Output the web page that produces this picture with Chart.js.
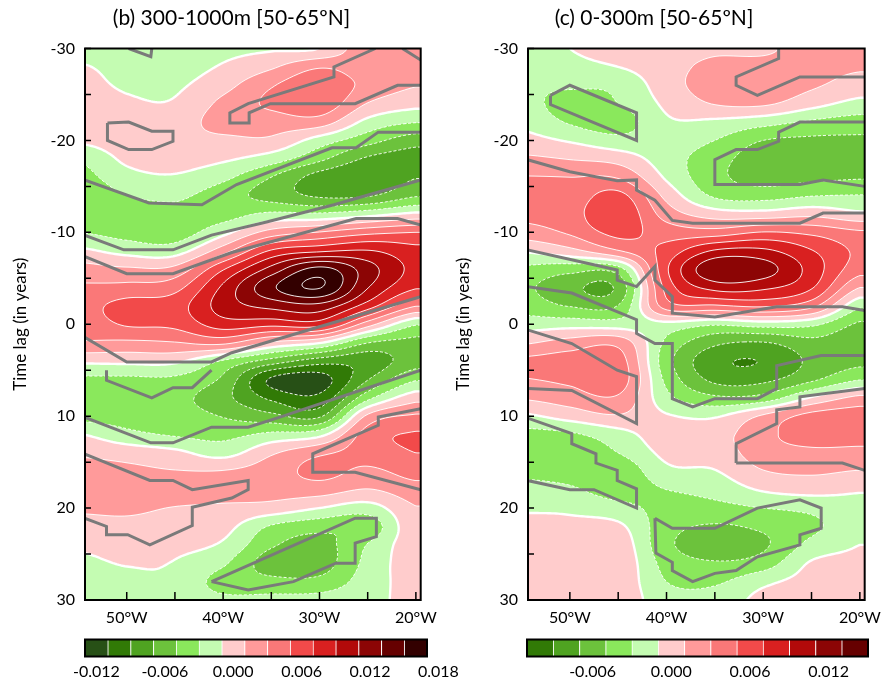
<!DOCTYPE html>
<html>
<head>
<meta charset="utf-8">
<title>Lag regression, 50-65ºN</title>
<script src="https://cdn.jsdelivr.net/npm/chart.js@4.4.1/dist/chart.umd.min.js"></script>
<style>
  html, body { margin: 0; padding: 0; background: #fff; }
  #wrap { position: relative; width: 889px; height: 686px; overflow: hidden; }
  canvas { position: absolute; }
</style>
</head>
<body>
<div id="wrap">
  <canvas id="mapB" width="445" height="640" style="left:0;top:0"></canvas>
  <canvas id="mapC" width="444" height="640" style="left:445px;top:0"></canvas>
  <canvas id="barB" width="410" height="56" style="left:60px;top:630px"></canvas>
  <canvas id="barC" width="400" height="56" style="left:500px;top:630px"></canvas>
</div>
<script>
// grid nodes of the regression field
const lonNodes = [-55, -50, -45, -40, -35, -30, -25, -20];
const lagNodes = [-30, -28, -26, -24, -22, -20, -18, -16, -14, -12, -10, -8, -6, -4, -2,
                  0, 2, 4, 6, 8, 10, 12, 14, 16, 18, 20, 22, 24, 26, 28, 30];

// regression coefficients x 1e-3, one row per lag node, one column per lon node
const field300to1000 = [
  [-1.8, -2.2, -2.3, -1.5, -1.2, -1.0, 2.4, 2.7],
  [-0.8, -1.7, -1.8, -0.8, 0.7, 2.8, 1.9, 1.9],
  [-0.2, -1.3, -1.3, 0.3, 2.8, 4.5, 2.4, 1.1],
  [0.6, -0.6, -0.8, 1.5, 3.4, 4.4, 0.9, -0.4],
  [0.0, 0.1, -0.1, 1.9, 1.9, 2.0, -1.6, -2.9],
  [-0.7, 0.1, 0.4, 0.5, 0.6, -1.9, -4.2, -6.1],
  [-2.8, -0.6, -0.3, -0.7, -2.0, -4.5, -7.3, -8.0],
  [-3.8, -1.7, -1.2, -2.5, -5.0, -7.8, -8.8, -7.1],
  [-4.7, -3.0, -2.6, -4.1, -5.8, -7.3, -7.2, -5.2],
  [-3.9, -4.2, -3.6, -3.8, -2.6, -2.7, -1.8, -0.6],
  [-3.0, -3.7, -3.9, -1.6, 1.8, 3.1, 4.4, 5.0],
  [-0.6, -1.7, -1.9, 2.1, 7.2, 8.6, 9.1, 7.6],
  [1.8, 1.3, 1.6, 6.8, 11.7, 15.6, 11.9, 8.4],
  [3.3, 3.6, 4.3, 9.4, 14.6, 17.1, 11.1, 7.2],
  [4.2, 5.7, 6.1, 9.9, 11.6, 12.3, 8.0, 3.1],
  [3.8, 5.2, 5.5, 8.0, 7.6, 7.8, 1.9, -2.8],
  [2.8, 2.6, 2.9, 3.5, 0.7, -0.8, -4.9, -5.6],
  [-0.6, -0.5, -0.6, -3.2, -5.8, -8.0, -8.2, -5.9],
  [-3.4, -3.4, -3.4, -5.4, -11.3, -11.9, -7.1, -3.2],
  [-4.5, -4.4, -4.4, -6.4, -9.4, -10.4, -3.6, 0.2],
  [-3.7, -3.9, -4.1, -5.1, -6.4, -7.3, 1.4, 3.3],
  [-0.9, -2.4, -3.2, -3.6, -2.5, -1.6, 3.9, 5.2],
  [0.7, 0.2, -0.5, -1.7, 0.7, 2.6, 3.8, 5.0],
  [1.8, 1.5, 1.1, 1.1, 2.0, 3.6, 2.6, 3.8],
  [2.3, 2.4, 2.2, 2.0, 1.8, 1.9, 0.9, 2.2],
  [1.3, 1.4, 0.9, 0.6, 0.2, -1.0, -1.9, 0.9],
  [0.3, 0.5, 0.2, -0.3, -3.2, -4.3, -4.3, 0.6],
  [-0.7, -0.2, -0.5, -1.3, -4.7, -5.7, -2.9, 0.3],
  [-1.4, -0.9, -1.1, -2.7, -6.0, -6.0, -2.4, 0.1],
  [-1.8, -1.4, -1.4, -3.8, -4.4, -4.4, -2.0, -0.2],
  [-2.1, -1.9, -1.8, -2.6, -2.5, -2.3, -1.5, -0.5]
];

const field0to300 = [
  [-2.0, -1.0, 0.2, 0.0, 0.6, 0.5, 2.3, 2.4],
  [-2.3, -1.8, -1.0, 0.2, 1.6, 1.9, 1.8, 1.3],
  [-2.6, -2.7, -2.5, 0.1, 2.0, 2.3, 1.3, 0.1],
  [-2.1, -3.9, -3.0, -0.6, 1.1, 1.3, -0.3, -1.6],
  [-1.4, -3.2, -4.0, -1.3, -1.4, -2.2, -3.3, -3.9],
  [-0.3, -1.2, -2.3, -2.0, -3.0, -5.0, -5.4, -5.4],
  [1.4, 0.9, 0.2, -2.1, -4.1, -6.2, -6.5, -6.3],
  [3.1, 3.0, 2.8, -1.3, -4.4, -5.8, -5.5, -5.2],
  [4.2, 3.8, 5.6, 0.4, -3.3, -3.8, -3.1, -2.9],
  [3.6, 4.2, 6.6, 2.1, 0.0, -0.2, 0.4, -0.6],
  [2.0, 3.3, 5.6, 4.1, 3.9, 5.1, 4.5, 3.3],
  [-0.8, 0.4, 2.9, 5.7, 9.2, 9.4, 7.1, 4.6],
  [-3.4, -4.2, -3.8, 6.7, 12.6, 11.9, 8.2, 3.8],
  [-4.5, -6.5, -6.5, 5.7, 9.7, 9.4, 7.2, 1.0],
  [-3.7, -5.1, -4.9, 4.0, 4.7, 5.3, 3.6, -2.6],
  [-2.0, -1.8, -2.0, -1.6, -2.7, -2.0, -2.5, -5.3],
  [0.7, 1.8, 2.3, -3.4, -6.5, -7.1, -5.6, -6.3],
  [3.4, 3.9, 4.0, -4.2, -8.4, -8.9, -6.6, -5.6],
  [2.9, 3.4, 4.2, -3.5, -7.5, -7.5, -5.4, -3.1],
  [1.2, 2.0, 2.7, -2.4, -4.6, -4.2, -0.8, 1.5],
  [-1.4, -0.2, 0.8, -0.8, -1.2, 1.3, 3.7, 4.1],
  [-3.7, -3.3, -1.8, 0.1, 0.2, 2.4, 4.0, 3.9],
  [-4.4, -4.3, -3.0, -0.5, -0.1, 2.0, 2.5, 2.4],
  [-3.4, -3.8, -4.4, -1.5, -1.1, 0.9, 1.3, 0.9],
  [-2.4, -2.7, -3.9, -3.0, -2.3, -0.8, -0.3, -0.8],
  [-1.3, -1.4, -2.3, -3.6, -3.6, -3.0, -2.5, -1.6],
  [-0.2, -0.4, -0.6, -4.2, -5.2, -4.6, -3.4, -1.8],
  [0.6, 0.5, 0.3, -4.5, -6.1, -5.3, -2.4, -1.0],
  [0.5, 0.4, 0.5, -3.7, -4.8, -4.0, -0.8, -0.6],
  [0.3, 0.3, 0.4, -3.0, -3.3, -1.5, -0.3, -0.2],
  [0.2, 0.2, 0.3, -2.2, -2.2, -0.4, 0.3, 0.2]
];

// contour levels (x 1e-3) and the shading between them
const levels = [-11, -9, -7, -5, -3, -1, 1, 3, 5, 7, 9, 11, 13, 15, 17];
const fillColors = ['#275016', '#317a06', '#4fa321', '#6cc23c', '#8ae85c', '#c4fcb2',
                    '#ffcccc', '#ff9a9a', '#fa7878', '#f24a4a', '#d92020', '#b20a0a',
                    '#8c0505', '#660000', '#330000', '#330000'];

// colour bar box edges and labels
const barEdgesB = [-13, -11, -9, -7, -5, -3, -1, 1, 3, 5, 7, 9, 11, 13, 15, 17];
const barTicksB = [-12, -6, 0, 6, 12, 18];
const barLabelsB = ['-0.012', '-0.006', '0.000', '0.006', '0.012', '0.018'];
const barEdgesC = [-11, -9, -7, -5, -3, -1, 1, 3, 5, 7, 9, 11, 13, 15];
const barTicksC = [-6, 0, 6, 12];
const barLabelsC = ['-0.006', '0.000', '0.006', '0.012'];

// axis ticks
const lonTicks = [-50, -45, -40, -35, -30, -25, -20];
const lonLabels = ['50°W', '', '40°W', '', '30°W', '', '20°W'];
const lagTicks = [-30, -25, -20, -15, -10, -5, 0, 5, 10, 15, 20, 25, 30];
const lagLabels = ['-30', '', '-20', '', '-10', '', '0', '', '10', '', '20', '', '30'];

// significance outlines, [lon, lag] vertices
const sig300to1000 = [
  [[-49.8, -30], [-47.5, -29.1], [-47.4, -30]],
  [[-24.2, -30], [-28.5, -28.0], [-28.5, -26.9], [-37.4, -24.0], [-39.3, -23.0], [-39.3, -21.9],
   [-37.3, -21.9], [-37.3, -23.0], [-35.1, -24.0], [-26.3, -24.0], [-21.9, -26.0], [-19.5, -26.0]],
  [[-19.5, -28.75], [-21.4, -30]],
  [[-52.0, -21.9], [-49.8, -22.0], [-47.4, -21.0], [-45.2, -21.0], [-45.2, -19.9], [-47.4, -19.0],
   [-49.8, -19.0], [-52.0, -20.0], [-52.0, -21.9]],
  [[-54.4, -15.7], [-47.7, -13.2], [-42.2, -13.0], [-38.6, -15.2], [-28.7, -19.2], [-26.2, -19.2],
   [-23.9, -20.9], [-19.5, -20.9]],
  [[-54.4, -9.7], [-50.3, -8.1], [-45.2, -8.1], [-41.2, -9.7], [-35.6, -11.1], [-28.5, -13.0], [-19.5, -15.7]],
  [[-54.4, -7.4], [-50.0, -5.5], [-45.2, -5.5], [-39.1, -7.8], [-26.2, -11.5], [-21.9, -11.5], [-19.5, -10.8]],
  [[-54.4, 1.4], [-50.0, 4.1], [-41.2, 4.1], [-39.1, 3.1], [-19.5, -3.0]],
  [[-52.1, 5.0], [-52.1, 6.1], [-47.4, 8.0], [-45.2, 6.9], [-43.2, 6.9], [-41.2, 5.0]],
  [[-54.4, 10.1], [-47.5, 12.9], [-45.2, 12.9], [-41.2, 11.2], [-37.4, 11.2], [-34.1, 10.1], [-19.5, 5.0]],
  [[-54.4, 14.1], [-47.6, 17.0], [-45.2, 17.0], [-43.2, 18.0], [-37.4, 17.0], [-37.4, 18.0],
   [-39.1, 18.9], [-43.2, 19.9], [-43.2, 21.9], [-47.6, 24.0], [-49.9, 22.9], [-52.1, 22.9],
   [-52.1, 22.0], [-54.4, 21.1]],
  [[-19.5, 9.2], [-23.9, 10.1], [-23.9, 11.0], [-30.7, 14.1], [-30.7, 16.1], [-26.3, 16.1], [-19.5, 18.0]],
  [[-41.2, 28.0], [-37.4, 28.9], [-32.7, 28.0], [-28.3, 26.0], [-26.3, 26.0], [-26.3, 23.8],
   [-24.1, 23.1], [-24.1, 21.1], [-26.3, 21.1], [-41.2, 28.0]]
];

const sig0to300 = [
  [[-52.0, -24.9], [-50.0, -26.0], [-43.1, -23.0], [-43.1, -20.0], [-52.0, -23.9], [-52.0, -24.9]],
  [[-28.4, -30], [-28.4, -28.9], [-32.8, -26.9], [-32.8, -26.0], [-30.6, -24.9], [-26.2, -26.9], [-19.5, -26.9]],
  [[-19.5, -22.0], [-26.2, -22.0], [-28.4, -20.9], [-28.4, -19.9], [-30.6, -19.0], [-32.8, -19.0],
   [-35.0, -17.9], [-35.0, -15.2], [-26.2, -15.2], [-23.8, -15.7], [-19.5, -15.0]],
  [[-54.4, -17.9], [-50.0, -16.6], [-45.1, -15.6], [-43.1, -15.7], [-43.1, -14.6], [-41.2, -13.5],
   [-39.4, -11.3], [-37.3, -11.0], [-26.2, -11.0], [-23.8, -12.1], [-19.5, -12.1]],
  [[-19.5, -1.5], [-21.8, -1.9], [-28.6, -1.9], [-35.0, -0.8], [-39.4, -1.2], [-39.4, -3.0],
   [-41.2, -4.8], [-41.2, -6.3], [-43.1, -4.1], [-45.1, -4.8], [-45.1, -5.9], [-54.4, -8.1]],
  [[-54.4, -4.1], [-49.8, -3.4], [-43.1, -0.5], [-43.1, 1.0], [-41.2, 2.1], [-39.4, 2.1], [-39.4, 8.1],
   [-37.3, 9.0], [-35.0, 8.1], [-30.6, 8.1], [-28.6, 7.0], [-28.6, 4.5], [-24.0, 3.4], [-19.5, 3.4]],
  [[-54.4, 7.0], [-49.8, 7.2], [-43.1, 10.8], [-43.1, 5.7], [-45.1, 5.0], [-49.8, 2.1], [-54.4, 0.6]],
  [[-54.4, 10.2], [-49.8, 11.9], [-49.8, 13.0], [-47.3, 14.1], [-47.3, 15.1], [-45.1, 15.9], [-45.1, 17.0],
   [-43.1, 17.9], [-43.1, 20.0], [-47.5, 18.0], [-50.0, 18.0], [-54.4, 17.0]],
  [[-32.8, 15.1], [-32.8, 13.0], [-28.6, 10.8], [-28.6, 9.3], [-26.2, 9.0], [-26.2, 7.9], [-19.5, 7.0]],
  [[-32.8, 15.1], [-21.8, 15.1], [-19.5, 15.9]],
  [[-41.2, 21.1], [-39.4, 22.2], [-35.0, 22.2], [-30.6, 20.0], [-26.2, 19.1], [-24.0, 20.0], [-24.0, 22.2],
   [-26.2, 22.9], [-26.2, 24.0], [-30.6, 25.3], [-32.8, 26.8], [-35.0, 27.1], [-37.3, 28.0], [-39.4, 26.8],
   [-39.4, 25.9], [-41.1, 24.9], [-41.2, 21.1]]
];

const FONT = 'Lato, "Open Sans", "DejaVu Sans", sans-serif';
Chart.defaults.font.family = FONT;
Chart.defaults.color = '#000';

const LON0 = lonNodes[0], DLON = lonNodes[1] - lonNodes[0];
const LAG0 = lagNodes[0], DLAG = lagNodes[1] - lagNodes[0];
const fillRGB = fillColors.map(h => [1, 3, 5].map(o => parseInt(h.substr(o, 2), 16)));

function catmull(p0, p1, p2, p3, t) {
  return p1 + 0.5 * t * (p2 - p0 + t * (2 * p0 - 5 * p1 + 4 * p2 - p3 + t * (3 * (p1 - p2) + p3 - p0)));
}

// smooth (Catmull-Rom) value of the gridded field at lon/lag
function fieldAt(grid, lon, lag) {
  const ny = grid.length, nx = grid[0].length;
  const gx = Math.min(nx - 1, Math.max(0, (lon - LON0) / DLON));
  const gy = Math.min(ny - 1, Math.max(0, (lag - LAG0) / DLAG));
  const ix = Math.min(nx - 2, Math.floor(gx)), iy = Math.min(ny - 2, Math.floor(gy));
  const tx = gx - ix, ty = gy - iy;
  const cx = k => Math.min(nx - 1, Math.max(0, k));
  const rowVal = r => {
    const R = grid[Math.min(ny - 1, Math.max(0, r))];
    return catmull(R[cx(ix - 1)], R[cx(ix)], R[cx(ix + 1)], R[cx(ix + 2)], tx);
  };
  return catmull(rowVal(iy - 1), rowVal(iy), rowVal(iy + 1), rowVal(iy + 2), ty);
}

function binOf(v) {
  let k = 0;
  while (k < levels.length && v >= levels[k]) k++;
  return k;
}

// marching squares for one level, segments chained into polylines
function traceLevel(vals, nx, ny, ox, oy, step, L) {
  const pos = new Map(), adj = new Map();
  const link = (p, q) => {
    if (!adj.has(p)) adj.set(p, []);
    if (!adj.has(q)) adj.set(q, []);
    adj.get(p).push(q);
    adj.get(q).push(p);
  };
  for (let j = 0; j < ny - 1; j++) {
    for (let i = 0; i < nx - 1; i++) {
      const a = vals[j * nx + i], b = vals[j * nx + i + 1];
      const c = vals[(j + 1) * nx + i + 1], d = vals[(j + 1) * nx + i];
      const idx = (a >= L ? 1 : 0) | (b >= L ? 2 : 0) | (c >= L ? 4 : 0) | (d >= L ? 8 : 0);
      if (idx === 0 || idx === 15) continue;
      const edge = n => {
        let k, x, y, t;
        if (n === 0) { k = (j * nx + i) * 2; t = (L - a) / (b - a); x = ox + (i + t) * step; y = oy + j * step; }
        else if (n === 1) { k = (j * nx + i + 1) * 2 + 1; t = (L - b) / (c - b); x = ox + (i + 1) * step; y = oy + (j + t) * step; }
        else if (n === 2) { k = ((j + 1) * nx + i) * 2; t = (L - d) / (c - d); x = ox + (i + t) * step; y = oy + (j + 1) * step; }
        else { k = (j * nx + i) * 2 + 1; t = (L - a) / (d - a); x = ox + i * step; y = oy + (j + t) * step; }
        if (!pos.has(k)) pos.set(k, [x, y]);
        return k;
      };
      const m = (a + b + c + d) / 4;
      let pairs;
      switch (idx) {
        case 1: case 14: pairs = [[0, 3]]; break;
        case 2: case 13: pairs = [[0, 1]]; break;
        case 3: case 12: pairs = [[1, 3]]; break;
        case 4: case 11: pairs = [[1, 2]]; break;
        case 6: case 9: pairs = [[0, 2]]; break;
        case 7: case 8: pairs = [[2, 3]]; break;
        case 5: pairs = m >= L ? [[0, 1], [2, 3]] : [[0, 3], [1, 2]]; break;
        case 10: pairs = m >= L ? [[0, 3], [1, 2]] : [[0, 1], [2, 3]]; break;
      }
      for (const [p, q] of pairs) link(edge(p), edge(q));
    }
  }
  const lines = [];
  const walk = start => {
    const pts = [pos.get(start)];
    let cur = start;
    for (;;) {
      const nb = adj.get(cur);
      if (!nb.length) break;
      const nxt = nb.pop();
      const back = adj.get(nxt);
      back.splice(back.indexOf(cur), 1);
      pts.push(pos.get(nxt));
      cur = nxt;
    }
    return pts;
  };
  for (const [k, nb] of adj) if (nb.length === 1) lines.push(walk(k));
  for (const [k, nb] of adj) while (nb.length) lines.push(walk(k));
  return lines;
}

// shaded field plus white contour lines, drawn under the outlines
function fieldPlugin(grid) {
  return {
    id: 'field',
    beforeDatasetsDraw(chart) {
      const { ctx, chartArea: area, scales: { x: xs, y: ys } } = chart;
      const X0 = Math.floor(area.left), Y0 = Math.floor(area.top);
      const W = Math.ceil(area.right) - X0, H = Math.ceil(area.bottom) - Y0;
      const img = ctx.createImageData(W, H);
      const lons = [];
      for (let i = 0; i < W; i++) lons.push(xs.getValueForPixel(X0 + i + 0.5));
      for (let j = 0; j < H; j++) {
        const lag = ys.getValueForPixel(Y0 + j + 0.5);
        for (let i = 0; i < W; i++) {
          const c = fillRGB[binOf(fieldAt(grid, lons[i], lag))];
          const o = (j * W + i) * 4;
          img.data[o] = c[0]; img.data[o + 1] = c[1]; img.data[o + 2] = c[2]; img.data[o + 3] = 255;
        }
      }
      ctx.putImageData(img, X0, Y0);

      const step = 2;
      const nx = Math.ceil(W / step) + 1, ny = Math.ceil(H / step) + 1;
      const vals = new Float64Array(nx * ny);
      for (let j = 0; j < ny; j++) {
        const lag = ys.getValueForPixel(Y0 + j * step);
        for (let i = 0; i < nx; i++) vals[j * nx + i] = fieldAt(grid, xs.getValueForPixel(X0 + i * step), lag);
      }
      ctx.save();
      ctx.beginPath();
      ctx.rect(area.left, area.top, area.width, area.height);
      ctx.clip();
      ctx.strokeStyle = '#ffffff';
      ctx.lineJoin = 'round';
      for (const L of levels) {
        const lines = traceLevel(vals, nx, ny, X0, Y0, step, L);
        if (!lines.length) continue;
        ctx.lineWidth = L === -1 ? 2.4 : 0.9;
        ctx.setLineDash(L < -1 ? [3, 2] : []);
        ctx.beginPath();
        for (const pts of lines) {
          ctx.moveTo(pts[0][0], pts[0][1]);
          for (let k = 1; k < pts.length; k++) ctx.lineTo(pts[k][0], pts[k][1]);
        }
        ctx.stroke();
      }
      ctx.restore();
    }
  };
}

// black frame, inward tick marks and the panel heading
function framePlugin(title, titleX) {
  return {
    id: 'frame',
    afterDraw(chart) {
      const { ctx, chartArea: a, scales: { x: xs, y: ys } } = chart;
      ctx.save();
      ctx.strokeStyle = '#000';
      ctx.lineWidth = 1.5;
      ctx.beginPath();
      for (const v of lonTicks) {
        const px = xs.getPixelForValue(v);
        ctx.moveTo(px, a.bottom);
        ctx.lineTo(px, a.bottom - 8);
      }
      for (const v of lagTicks) {
        const py = ys.getPixelForValue(v);
        ctx.moveTo(a.left, py);
        ctx.lineTo(a.left + 6, py);
      }
      ctx.stroke();
      ctx.lineWidth = 2;
      ctx.strokeRect(a.left, a.top, a.right - a.left, a.bottom - a.top);
      ctx.fillStyle = '#000';
      ctx.font = '21px ' + FONT;
      ctx.textAlign = 'center';
      ctx.textBaseline = 'middle';
      ctx.fillText(title, titleX, 18);
      ctx.restore();
    }
  };
}

function mapChart(id, grid, outlines, title, titleX, yWidth, padRight, yTitlePad) {
  return new Chart(document.getElementById(id), {
    type: 'scatter',
    data: {
      datasets: outlines.map(line => ({
        data: line.map(([x, y]) => ({ x, y })),
        showLine: true,
        borderColor: '#7a7a7a',
        borderWidth: 3,
        pointRadius: 0,
        fill: false
      }))
    },
    options: {
      responsive: false,
      animation: false,
      events: [],
      layout: { padding: { top: 48.5, right: padRight, bottom: 0, left: 0 } },
      plugins: { legend: { display: false }, tooltip: { enabled: false } },
      scales: {
        x: {
          type: 'linear', min: -54.33, max: -19.5,
          grid: { display: false, drawTicks: false }, border: { display: false },
          afterBuildTicks: s => { s.ticks = lonTicks.map(v => ({ value: v })); },
          afterFit: s => { s.height = 40; },
          ticks: { autoSkip: false, maxRotation: 0, padding: 8, font: { size: 16 },
                   callback: (v, i) => lonLabels[i] }
        },
        y: {
          type: 'linear', reverse: true, min: -30, max: 30,
          grid: { display: false, drawTicks: false }, border: { display: false },
          afterBuildTicks: s => { s.ticks = lagTicks.map(v => ({ value: v })); },
          afterFit: s => { s.width = yWidth; },
          ticks: { autoSkip: false, padding: 10, font: { size: 16 },
                   callback: (v, i) => lagLabels[i] },
          title: { display: true, text: 'Time lag (in years)', font: { size: 17 },
                   padding: { top: yTitlePad, bottom: 0 } }
        }
      }
    },
    plugins: [fieldPlugin(grid), framePlugin(title, titleX)]
  });
}

function colorBar(id, edges, ticks, labels, padLeft, padRight) {
  const boxes = edges.slice(0, -1).map((lo, i) => ({ x: [lo, edges[i + 1]], y: 'bar' }));
  return new Chart(document.getElementById(id), {
    type: 'bar',
    data: {
      labels: ['bar'],
      datasets: [{
        data: boxes,
        backgroundColor: boxes.map(b => fillColors[binOf((b.x[0] + b.x[1]) / 2)]),
        borderColor: '#ffffff',
        borderWidth: { left: 1, right: 0, top: 0, bottom: 0 },
        borderSkipped: false,
        barThickness: 17
      }]
    },
    options: {
      indexAxis: 'y',
      responsive: false,
      animation: false,
      events: [],
      layout: { padding: { top: 9.5, right: padRight, bottom: 0, left: padLeft } },
      plugins: { legend: { display: false }, tooltip: { enabled: false } },
      scales: {
        x: {
          type: 'linear', min: edges[0], max: edges[edges.length - 1],
          grid: { display: false, drawTicks: false }, border: { display: false },
          afterBuildTicks: s => { s.ticks = ticks.map(v => ({ value: v })); },
          afterFit: s => { s.height = 29.5; },
          ticks: { autoSkip: false, maxRotation: 0, padding: 6, font: { size: 16 },
                   callback: (v, i) => labels[i] }
        },
        y: { display: false }
      }
    },
    plugins: [{
      id: 'barFrame',
      afterDraw(chart) {
        const { ctx, chartArea: a } = chart;
        ctx.save();
        ctx.strokeStyle = '#000';
        ctx.lineWidth = 2;
        ctx.strokeRect(a.left, a.top, a.right - a.left, a.bottom - a.top);
        ctx.restore();
      }
    }]
  });
}

mapChart('mapB', field300to1000, sig300to1000, '(b) 300-1000m [50-65ºN]', 231.5, 85, 17, 10);
mapChart('mapC', field0to300, sig0to300, '(c) 0-300m [50-65ºN]', 209, 83, 19, 8);
colorBar('barB', barEdgesB, barTicksB, barLabelsB, 25, 43);
colorBar('barC', barEdgesC, barTicksC, barLabelsC, 27, 32);
</script>
</body>
</html>
